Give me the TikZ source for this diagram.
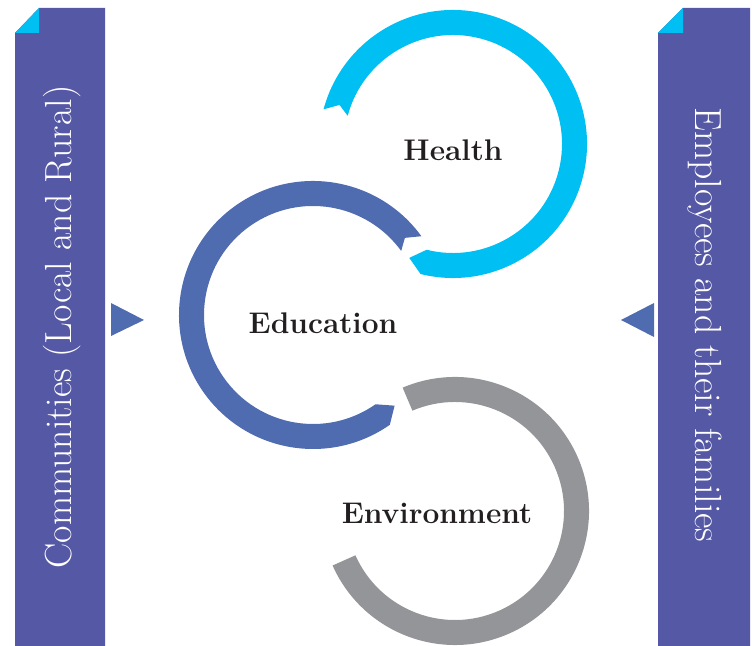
\documentclass[tikz,border=0pt]{standalone}
\usepackage{tikz}
\definecolor{bannerblue}{RGB}{85,88,165}
\definecolor{cornercyan}{RGB}{0,191,243}
\definecolor{educblue}{RGB}{80,108,176}
\definecolor{envgray}{RGB}{147,149,152}
\definecolor{labelblack}{RGB}{35,31,32}
\begin{document}
\begin{tikzpicture}[x=0.02cm,y=0.02cm,
    ringlabel/.style={text=labelblack,font=\fontsize{17}{20}\selectfont\bfseries},
    bannertext/.style={text=white,font=\fontsize{21.5}{24}\selectfont}]
    \useasboundingbox (0,0) rectangle (752,646);
    % banners
    \fill[bannerblue] (15,613)--(39,638)--(105,638)--(105,0)--(15,0)--cycle;
    \fill[cornercyan] (15,613)--(39,638)--(39,613)--cycle;
    \fill[bannerblue] (658,613)--(683,638)--(750,638)--(750,0)--(658,0)--cycle;
    \fill[cornercyan] (658,613)--(683,638)--(683,613)--cycle;
    \node[bannertext,rotate=90] (communities) at (62,319) {Communities (Local and Rural)};
    \node[bannertext,rotate=-90] (employees) at (705,321) {Employees and their families};
    % pointers
    \fill[educblue] (111,343)--(111,310)--(144,326)--cycle;
    \fill[educblue] (654,343)--(654,309)--(621,326)--cycle;
    % ring centres
    \coordinate (hc) at (453,502);
    \coordinate (ec) at (313,331);
    \coordinate (vc) at (455,135);
    % health ring
    \fill[cornercyan] ([shift={(hc)}]165:134) arc[start angle=165,end angle=-104,radius=134]
      -- ([shift={(hc)}]-111:122) -- ([shift={(hc)}]-104:109)
      arc[start angle=-104,end angle=165,radius=109]
      -- ([shift={(hc)}]161:120) -- cycle;
    % education ring
    \fill[educblue] ([shift={(ec)}]36:134) arc[start angle=36,end angle=305,radius=134]
      -- ([shift={(ec)}]312:122) -- ([shift={(ec)}]305:109)
      arc[start angle=305,end angle=36,radius=109]
      -- ([shift={(ec)}]40:120) -- cycle;
    % environment ring
    \fill[envgray] ([shift={(vc)}]113:134) arc[start angle=113,end angle=-156,radius=134]
      -- ([shift={(vc)}]-156:109)
      arc[start angle=-156,end angle=113,radius=109] -- cycle;
    % labels
    \node[ringlabel] (health) at (453,496) {Health};
    \node[ringlabel] (education) at (323,323) {Education};
    \node[ringlabel] (environment) at (437,133) {Environment};
\end{tikzpicture}
\end{document}
